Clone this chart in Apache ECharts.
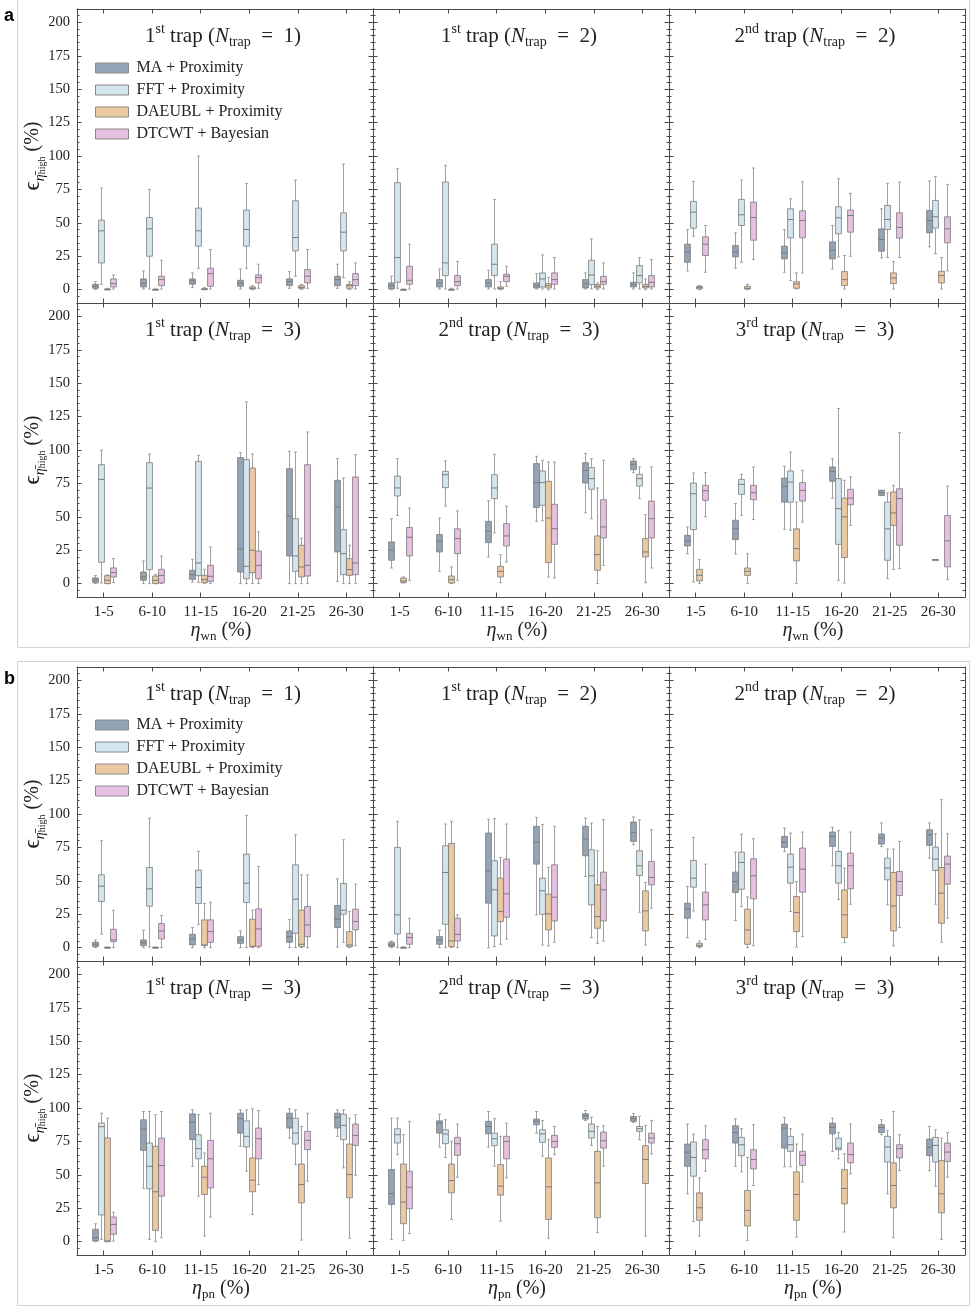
<!DOCTYPE html>
<html>
<head>
<meta charset="utf-8">
<script src="https://cdn.jsdelivr.net/npm/echarts@6/dist/echarts.min.js"></script>
<style>
  html, body { margin: 0; padding: 0; background: #fff; }
  #chart { width: 976px; height: 1311px; }
</style>
</head>
<body>
<div id="chart"></div>
<script>
/* =====================================================
   Error boxplots, 2 noise types x 6 trap panels
   - every box is [min, q1, median, q3, max]
   - method order: MA, FFT, DAEUBL, DTCWT
   ===================================================== */

const CATEGORIES = ["1-5", "6-10", "11-15", "16-20", "21-25", "26-30"];
const METHODS = ["MA + Proximity", "FFT + Proximity", "DAEUBL + Proximity", "DTCWT + Bayesian"];
const Y_TICKS = [0, 25, 50, 75, 100, 125, 150, 175, 200];

// --- a: white noise (eta_wn) ---
const aWnN1T1 = [
  [[0,1,2.5,4,6],[0.5,2,4.5,8,14],[1.5,4,6.5,8,12.5],[0.5,2.5,5,7,15.5],[1,3,6,8,13.5],[1,3,7.5,10,19]],
  [[4,20,44,52,76],[0.5,25,45.5,54,75],[16,32.5,44,61,100],[16,32.5,45,59.5,79.5],[10,29,39,66.5,82],[9,29,43,57.5,94]],
  [[0,0,0.2,0.5,1],[0,0,0,0.3,0.5],[0,0,0.2,0.8,1.5],[0,0.5,1,2,3],[0,1,1.5,3,4],[0,1,3,4,6]],
  [[0.5,2,4.5,8,11],[0.5,3,7.5,10,22],[0.5,2.5,12,16,30],[1,5,9,11,19],[1,5,10,15,30],[0.5,3,7.5,12,20]]
];
const aWnN2T1 = [
  [[0,0.5,3,5,10],[0.5,2,5,7.5,15.5],[0.5,2,5,7.5,14.5],[0.5,1.25,3,5,12],[0.5,1.25,4.5,7.5,12.5],[0.5,2,3.75,5.5,12.5]],
  [[1,5.5,24,80,90.5],[0.5,10.5,20,80.5,93],[0.5,10.5,19,34,67.5],[0.5,2,8,12.5,26],[0.5,3.75,11,22,38],[0.5,5,10.5,18,24]],
  [[0,0,0,0.2,0.5],[0,0,0,0.3,1],[0,0.5,1,2,6],[0,1.25,3,4.5,9],[0,1.25,2.5,3.75,5],[0,1.25,2.5,4,8]],
  [[0.5,4,7,17.5,34],[0.5,3,6,10.5,21],[2.5,6,10,11.5,17.5],[0.5,4,7.5,12.5,24],[0.5,4,6,10,20],[0.5,2,5.5,10.5,22.5]]
];
const aWnN2T2 = [
  [[14,20.5,28,34,45],[16,24.5,28,33,42.5],[13,23,27.5,32.5,45],[15.5,23,29.5,35.75,48],[23.75,28.75,37.5,45.5,60.5],[32,42.5,51.75,59.25,81.25]],
  [[40,46,58,66,81],[20.5,48,56,67.5,82],[6.75,38.75,52.5,60.5,68],[24.5,41.75,53.75,62,83],[24,45,52.5,63,79.5],[27,46,54.5,66.75,84.5]],
  [[0,0.5,1.5,2.5,3],[0,0.5,1,2.5,4],[0.5,1,4.25,6,12.5],[0.5,3,7.5,13.5,25.5],[0.5,4.5,8.75,12.5,21],[0.5,5,10.5,13.75,24]],
  [[13,25.5,34,39.5,48],[22.5,37,54,65.5,91],[12.5,38.75,51.75,59,80.75],[25,43,55.5,59.5,72],[24,38.5,46.5,57.5,80.5],[14,35,45.5,54.5,78.75]]
];
const aWnN3T1 = [
  [[0,0.75,2.5,4.25,6],[0,2.5,5,8.7,17],[1.2,3.2,6.7,10,18.2],[0,8.7,26,94.3,98],[0,20.7,50.4,86,99],[1.7,23.7,57.4,77.3,93.5]],
  [[0.5,16,78,89,100],[0,10.5,71.5,90.5,97],[1,6,15.5,91.5,96],[0,3.7,13,92.8,136],[0,9.2,20.7,48.6,98.5],[0,6.7,22.4,40.4,79]],
  [[0,0,2.5,6,6.5],[0,0,2.5,5.7,7],[0,0.75,3,6.2,10.7],[0,8.2,25,86.5,97],[0,5,12.5,28.7,34],[0,6.2,10.5,18.7,28.7]],
  [[0.75,5,8.25,11.75,18.7],[0,0.5,6.2,10.7,20.7],[0,1.7,5.5,13.7,27.4],[0,3.7,13.7,24.4,38.7],[0,5.7,13.7,89,113.5],[0,6.7,15.5,79.8,96.5]]
];
const aWnN3T2 = [
  [[11.7,17.5,25,31.2,48.6],[9.2,23.7,31.7,36.7,49],[20,30.7,39.2,46.6,62],[46.6,56.9,75.6,89.8,95.3],[53,75.3,84.8,90.5,97.3],[83,85.3,89.3,91.8,93.5]],
  [[51,65.6,71.6,80.5,93.5],[58,71.8,81.5,84,91.8],[38,63.6,71.6,81.5,96.8],[47,58.6,75.6,84.3,92.3],[48.6,70.6,78.6,86.8,93.5],[63.6,73,78.6,81.8,87.3]],
  [[0.5,0.75,2,4.2,5],[0,0.5,3,5.7,12.5],[0.75,5,9.2,13,21.7],[5,15.7,49,76.6,91],[0,10,21.7,35.7,71.6],[0.75,20,23.7,33.7,51.6]],
  [[2.5,20.7,34.7,42,56.6],[2.5,22.4,33.7,41,54.4],[16.2,28.2,35.7,44.9,58],[4.2,29.4,41.1,59.4,91],[13.7,34.2,42.4,62.8,92.3],[11.7,34.2,48.6,61.8,87.3]]
];
const aWnN3T3 = [
  [[22.4,28.2,32,36.2,42.4],[22.2,32.9,41.1,47.4,60],[40.6,61,72.8,79,87.8],[64,76.6,84,87.3,93.5],[66,66,68,69.8,69.8],null],
  [[1.2,40.4,67.3,75.3,82.8],[51,66.8,74.3,78,81.8],[40,61,76,84.3,98.5],[2.5,29.4,56.1,78.6,131],[3.7,17.5,41,61,67.8],[18,18,18,18,18]],
  [[0,2,6.2,10.7,18],[0,6.2,9.2,11.7,22.4],[0,17,26.2,41,61],[0.5,19.5,50,64,77.3],[10.7,43.6,52.9,68.6,73.6],null],
  [[50,62.3,69.6,73.6,83],[47.9,62.8,68,73.6,87.3],[46,61.8,69.8,75.6,84.8],[43.6,59,64,70.6,79.8],[11.2,28.7,63.6,71,113],[3,12.5,32,51,73]]
];

// --- b: pink noise (eta_pn) ---
const bPnN1T1 = [
  [[0,0.75,2.5,4,5.75],[0,1.5,3.75,5.75,13],[0,2,6.5,10,15],[0,3.25,5.75,8.25,12.5],[0,4,8.25,12.5,21],[0.5,15,21.25,31.5,51.5]],
  [[10,34.5,46,54.5,80],[0.5,31,44,60,97],[17.5,33,45,58,72],[0,33.75,48.25,70,99],[0,10.75,36.25,62,84.5],[4,25,28,48,80.75]],
  [[0,0,0,0.3,0.5],[0,0,0,0.3,0.5],[0,1.5,2,20.75,33],[0,0.75,1,21.25,28],[0,0.75,2.5,28,54.5],[0,0.75,2,12,27]],
  [[0,4.5,5.75,13.75,28],[0,6.5,12.5,18,24],[0,4,12,20.75,34],[0,1,14,29,60.75],[0,8.25,17,30.75,54.5],[1.5,13.25,19.5,28.75,47.5]]
];
const bPnN2T1 = [
  [[0,0.75,2,4,5],[0,2.5,5.75,8.25,13],[0,33.25,57.5,85.75,96],[24.5,62.5,79,90.75,97.5],[53.25,68.75,81.25,90.75,97],[77,79.5,86.25,94,97.75]],
  [[0,10.25,24.5,75,94.5],[0,17.5,56.25,76.25,92.5],[0.75,8.75,43.25,65,96.5],[2,25,42.5,52,92],[7.5,32,53.75,73.25,93.25],[26.5,54,61.25,72.5,95.75]],
  [[0,0,0,0.3,0.5],[0,0.75,5,78,94.5],[2.5,19.5,27,52,67.5],[1.25,13.25,25.25,40,60],[3.25,14.5,23.25,47,72.5],[2,12.5,27.5,42.5,48.75]],
  [[0,2.5,7.5,10.75,22],[0,5,10,22,24.5],[6.5,22.75,40.25,66.25,92.5],[4,20,37.75,62,90.75],[5,20,43.25,56.5,95.75],[29.5,47,52.5,64.5,88.25]]
];
const bPnN2T2 = [
  [[7.5,22,29,33.25,45.75],[20.25,41.25,49.5,56.5,71.5],[72,75,78.75,83.25,89.5],[61.25,75.75,83.25,86.5,90],[75.75,77.5,82,85,93.25],[67,76.5,84.5,88.25,93.25]],
  [[27.5,45.25,52,65.25,82.5],[30.75,43.75,63.75,71.5,85],[27,48.25,60.25,70,85.75],[36,48.25,61.25,72,87.5],[32,50.75,59.5,67,73.75],[32.5,57.75,66.25,75.25,85.25]],
  [[0,0.75,1.75,3.25,5],[0,2.5,13.25,28.75,38],[0.5,12,26.25,38.25,49.5],[3.75,7.5,24.5,43.25,59.5],[1.25,12.5,31.25,56.25,73.75],[4,18.25,40.75,60,110.75]],
  [[6.25,20.75,32,41.5,62.5],[1.5,36.5,53.75,66.5,81.5],[8.25,41.5,58.75,74.5,86.5],[32.5,44,61.25,70.75,86.5],[15,39,49.5,57,79.5],[22,47.5,62.5,68.5,85.25]]
];
const bPnN3T1 = [
  [[0,0.5,3,9.2,13.4],[40,68.3,84.2,91.2,97.4],[56.4,76.3,89.4,95.6,98.6],[71.3,81.2,92,96.1,98.6],[77.5,85,92.4,96.1,99.4],[78.8,85,93,96.1,98.6]],
  [[1.7,20,86,88.7,96],[1.7,39.5,56.4,73.8,97.4],[34,62,69.6,80,95],[52.7,70.8,78.8,90.4,98.6],[57.6,73,81.2,92.4,98.6],[55.2,76.3,87,95.4,98.6]],
  [[0,0,0.5,77.6,92.4],[0,8.4,37.3,71.3,95],[4.2,35.3,48.2,56.4,66.3],[20.4,37.3,46,62.6,99.4],[1.2,29,42.7,58.1,86.2],[2.5,32.8,50.2,73,92.4]],
  [[0.5,5.5,12.9,18.4,22],[3,34,57,77.5,97.4],[18.4,40.2,62,75.8,96],[42.7,62,77,85,98],[45.2,68.8,75.8,82.5,96],[49.7,72,79.5,88,95]]
];
const bPnN3T2 = [
  [[1.7,27.8,36,54,92.4],[70.8,81.2,88.7,90.4,95.4],[70.8,80.7,86.2,90,97.4],[81.2,87.5,90,91.7,97.4],[90.7,91.7,94.2,95.7,98.1],[89.2,90,92,93.7,96]],
  [[65,73.8,80,84.5,92.4],[63,73.3,80.5,83.7,91.2],[56.4,71.8,77,81.2,92],[64,74.3,80.7,83.7,90.7],[72,77.5,82.5,88,93.2],[76.3,82.5,84.5,86.2,93.7]],
  [[1,13.4,29.6,58.1,80],[16.6,36.5,45.7,58,75],[15.4,34.8,41.5,57.6,78.8],[2.5,16.6,41,62.6,76.3],[6.7,17.9,44,67.6,86.2],[4.2,43.5,61.4,71.8,87]],
  [[6,24.6,40.7,52.7,90],[48.2,64.6,73.3,78,88],[47.7,62,75,78.8,88.7],[65,70.6,75,79.5,86.2],[56.4,70,75.5,82,86.7],[65.6,73.8,77.5,81.2,90.7]]
];
const bPnN3T3 = [
  [[35.8,56.4,67,73,88],[56.4,73.8,81.7,86.7,92],[56,70,85,88,93],[67.6,80.7,85.5,88.7,92.4],[80,81.7,85.5,87.5,91.2],[53.2,64.3,70.6,76.8,86.2]],
  [[15,49,63,74.5,80.5],[52.2,64.3,72.5,78,84.5],[56,67.6,72.5,78.8,84.5],[62,68.8,70,77.5,81.7],[35.8,59.6,70.8,78.8,83],[41.5,59.6,72,78,83.7]],
  [[4.2,16,25.3,36.5,47.7],[1,11.7,23.4,38.3,63],[3.5,16,35.3,52.2,73],[7.2,28.3,39.8,53.9,65.8],[3,25.3,42,59,97.4],[1.7,21.6,35.8,60.6,77.5]],
  [[52.7,62,68.8,76.3,86.7],[42,54.4,61.4,68.8,87.5],[44.5,57,64.6,67.6,80.5],[50.7,59,65.1,73.8,88],[53.2,62.6,69.6,72.5,80],[48.2,60,67,73.8,81.7]]
];

// panel list: data, ordinal, suffix, N, noise subscript
const PANELS = [
  { data: aWnN1T1, ord: "1", suf: "st", n: 1, noise: "wn" },
  { data: aWnN2T1, ord: "1", suf: "st", n: 2, noise: "wn" },
  { data: aWnN2T2, ord: "2", suf: "nd", n: 2, noise: "wn" },
  { data: aWnN3T1, ord: "1", suf: "st", n: 3, noise: "wn" },
  { data: aWnN3T2, ord: "2", suf: "nd", n: 3, noise: "wn" },
  { data: aWnN3T3, ord: "3", suf: "rd", n: 3, noise: "wn" },
  { data: bPnN1T1, ord: "1", suf: "st", n: 1, noise: "pn" },
  { data: bPnN2T1, ord: "1", suf: "st", n: 2, noise: "pn" },
  { data: bPnN2T2, ord: "2", suf: "nd", n: 2, noise: "pn" },
  { data: bPnN3T1, ord: "1", suf: "st", n: 3, noise: "pn" },
  { data: bPnN3T2, ord: "2", suf: "nd", n: 3, noise: "pn" },
  { data: bPnN3T3, ord: "3", suf: "rd", n: 3, noise: "pn" }
];

// --- look ---
const FILL = ["#92a4b6", "#d3e6ee", "#ecc9a1", "#e6c0e1"];
const EDGE = "#7a7a7a";
const WHISKER = "#a0a0a0";
const FRAME = "#4a4a4a";
const TEXT = "#222";
const SERIF = "'Liberation Serif', 'DejaVu Serif', serif";

const COL_LEFT = [77, 373, 669];
const ROW_TOP = [9, 303, 667, 961];
const W = 296, H = 294;
const X_MIN = -0.55, X_MAX = 5.55;
const Y_MIN = -10, Y_MAX = 210;
const BOX_W = 0.12;
const OFFSETS = [-0.1875, -0.0625, 0.0625, 0.1875];

const CAT_IDX = CATEGORIES.map((_, i) => i);
const MINOR = [];
for (let v = -5; v <= 205; v += 5) if (v % 25 !== 0) MINOR.push(v);

function boxRenderer(offset, fill) {
  return function (params, api) {
    const c = api.value(0) + offset;
    const lo = api.coord([c, api.value(1)]);
    const q1 = api.coord([c, api.value(2)]);
    const md = api.coord([c, api.value(3)]);
    const q3 = api.coord([c, api.value(4)]);
    const hi = api.coord([c, api.value(5)]);
    const half = api.size([BOX_W, 0])[0] / 2;
    const cap = half * 0.5;
    const x = Math.round(lo[0]) + 0.5;
    const ln = (x1, y1, x2, y2, stroke) => ({
      type: "line",
      shape: { x1, y1, x2, y2 },
      style: { stroke, lineWidth: 1 }
    });
    return {
      type: "group",
      children: [
        ln(x, hi[1], x, q3[1], WHISKER),
        ln(x, q1[1], x, lo[1], WHISKER),
        ln(x - cap, hi[1], x + cap, hi[1], WHISKER),
        ln(x - cap, lo[1], x + cap, lo[1], WHISKER),
        {
          type: "rect",
          shape: { x: x - half, y: q3[1], width: half * 2, height: Math.max(q1[1] - q3[1], 1) },
          style: { fill, stroke: EDGE, lineWidth: 0.8 }
        },
        ln(x - half, md[1], x + half, md[1], EDGE)
      ]
    };
  };
}

function tickAxis(base, lineShow) {
  return Object.assign({
    axisLine: { show: lineShow !== false, onZero: false, lineStyle: { color: FRAME, width: 1 } },
    splitLine: { show: false },
    silent: true
  }, base);
}

const grid = [], xAxis = [], yAxis = [], series = [], elements = [];

PANELS.forEach((p, g) => {
  const col = g % 3;
  const row = Math.floor(g / 3);
  const left = COL_LEFT[col], top = ROW_TOP[row];
  const isBottom = row === 1 || row === 3;
  const isLeft = col === 0;

  grid.push({ left, top, width: W, height: H });

  xAxis.push(tickAxis({
    gridIndex: g, type: "value", min: X_MIN, max: X_MAX, position: "bottom",
    axisTick: { show: true, inside: true, length: 4.5, customValues: CAT_IDX, lineStyle: { color: FRAME } },
    axisLabel: {
      show: isBottom, customValues: CAT_IDX, margin: 8,
      formatter: (v) => CATEGORIES[Math.round(v)],
      fontFamily: SERIF, fontSize: 15, color: TEXT
    }
  }));
  xAxis.push(tickAxis({
    gridIndex: g, type: "value", min: X_MIN, max: X_MAX, position: "top",
    axisTick: { show: true, inside: true, length: 4.5, customValues: CAT_IDX, lineStyle: { color: FRAME } },
    axisLabel: { show: false }
  }));

  ["left", "right"].forEach((side) => {
    yAxis.push(tickAxis({
      gridIndex: g, type: "value", min: Y_MIN, max: Y_MAX, position: side,
      axisTick: { show: true, inside: true, length: 4.5, customValues: Y_TICKS, lineStyle: { color: FRAME } },
      axisLabel: {
        show: side === "left" && isLeft, customValues: Y_TICKS, margin: 7,
        fontFamily: SERIF, fontSize: 14.5, color: TEXT
      }
    }));
    yAxis.push(tickAxis({
      gridIndex: g, type: "value", min: Y_MIN, max: Y_MAX, position: side,
      axisTick: { show: true, inside: true, length: 2.5, customValues: MINOR, lineStyle: { color: FRAME } },
      axisLabel: { show: false }
    }, false));
  });

  p.data.forEach((boxes, m) => {
    series.push({
      type: "custom",
      name: METHODS[m],
      xAxisIndex: 2 * g,
      yAxisIndex: 4 * g,
      silent: true,
      clip: true,
      itemStyle: { color: FILL[m], borderColor: EDGE },
      renderItem: boxRenderer(OFFSETS[m], FILL[m]),
      encode: { x: 0, y: [1, 2, 3, 4, 5] },
      data: boxes.map((b, i) => (b ? [i].concat(b) : null)).filter(Boolean)
    });
  });

  // panel title
  elements.push({
    type: "text",
    style: {
      x: left + W / 2 - 2, y: top + 27,
      align: "center", verticalAlign: "middle",
      text: `{n|${p.ord}}{sup|${p.suf}}{n| trap (}{it|N}{sub|trap}{n|  =  ${p.n})}`,
      rich: {
        n: { fontFamily: SERIF, fontSize: 21, lineHeight: 27, fill: TEXT },
        it: { fontFamily: SERIF, fontSize: 21, fontStyle: "italic", lineHeight: 27, fill: TEXT },
        sup: { fontFamily: SERIF, fontSize: 14, lineHeight: 14, verticalAlign: "top", fill: TEXT },
        sub: { fontFamily: SERIF, fontSize: 14, lineHeight: 14, verticalAlign: "bottom", fill: TEXT }
      }
    }
  });

  if (isBottom) {
    elements.push({
      type: "text",
      style: {
        x: left + W / 2 - 4, y: top + H + 34,
        align: "center", verticalAlign: "middle",
        text: `{i|η}{s|${p.noise}}{n| (%)}`,
        rich: {
          i: { fontFamily: SERIF, fontSize: 20, fontStyle: "italic", lineHeight: 24, fill: TEXT },
          s: { fontFamily: SERIF, fontSize: 13, lineHeight: 13, verticalAlign: "bottom", fill: TEXT },
          n: { fontFamily: SERIF, fontSize: 20, lineHeight: 24, fill: TEXT }
        }
      }
    });
  }

  if (isLeft) {
    elements.push({
      type: "text",
      x: 33, y: top + H / 2,
      rotation: Math.PI / 2,
      style: {
        x: 0, y: 0, align: "center", verticalAlign: "middle",
        text: "{e|\u03f5}{s|\u03b7\u0304}{ss|high}{n| (%)}",
        rich: {
          e: { fontFamily: SERIF, fontSize: 23, lineHeight: 28, fill: TEXT },
          s: { fontFamily: SERIF, fontSize: 14, fontStyle: "italic", lineHeight: 18, verticalAlign: "bottom", fill: TEXT },
          ss: { fontFamily: SERIF, fontSize: 10, lineHeight: 10, verticalAlign: "bottom", fill: TEXT },
          n: { fontFamily: SERIF, fontSize: 20, lineHeight: 28, fill: TEXT }
        }
      }
    });
  }
});

// light frames and panel letters
elements.push(
  { type: "rect", shape: { x: 17.5, y: -2, width: 952, height: 649.5 }, style: { fill: "none", stroke: "#d2d2d2", lineWidth: 1 } },
  { type: "rect", shape: { x: 17.5, y: 661.5, width: 952, height: 644 }, style: { fill: "none", stroke: "#d2d2d2", lineWidth: 1 } },
  { type: "text", style: { x: 4, y: 16, text: "a", verticalAlign: "middle", fontFamily: "'Liberation Sans', Arial, sans-serif", fontWeight: "bold", fontSize: 18, fill: "#000" } },
  { type: "text", style: { x: 4, y: 679, text: "b", verticalAlign: "middle", fontFamily: "'Liberation Sans', Arial, sans-serif", fontWeight: "bold", fontSize: 18, fill: "#000" } }
);

function legendAt(top) {
  return {
    orient: "vertical", left: 90, top,
    icon: "rect", itemWidth: 33, itemHeight: 10, itemGap: 6,
    selectedMode: false,
    textStyle: { fontFamily: SERIF, fontSize: 16, color: TEXT, lineHeight: 16, padding: [0, 0, 0, 3] },
    data: METHODS.map((name, i) => ({
      name, itemStyle: { color: FILL[i], borderColor: "#8a8a8a", borderWidth: 1 }
    }))
  };
}

const chart = echarts.init(document.getElementById("chart"), null, { renderer: "canvas" });
chart.setOption({
  animation: false,
  backgroundColor: "#fff",
  grid, xAxis, yAxis, series,
  legend: [legendAt(55), legendAt(712)],
  graphic: { elements }
});
</script>
</body>
</html>
